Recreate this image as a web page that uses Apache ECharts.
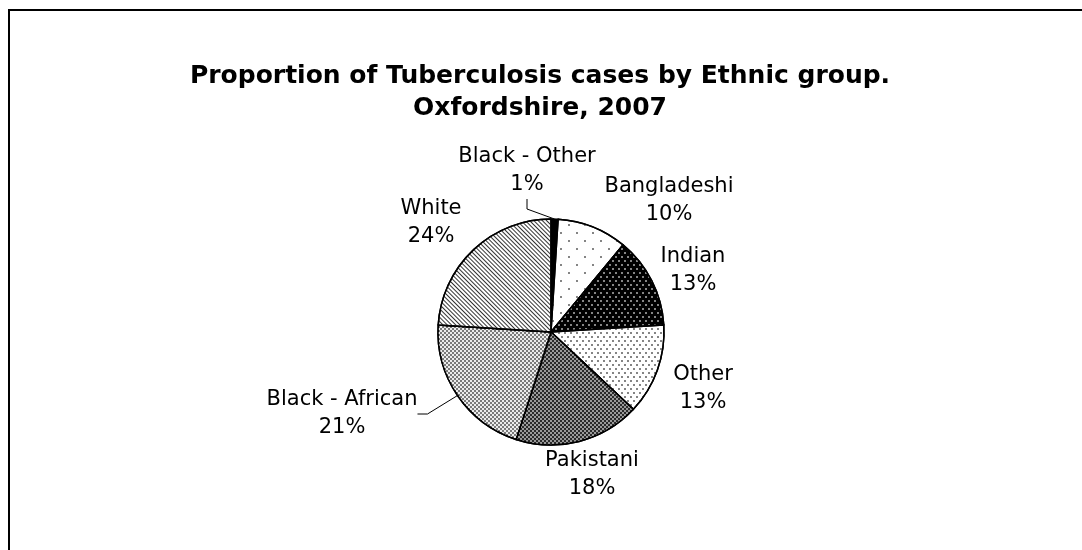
<!DOCTYPE html>
<html>
<head>
<meta charset="utf-8">
<script src="https://cdn.jsdelivr.net/npm/echarts@6/dist/echarts.min.js"></script>
<style>html,body{margin:0;padding:0;background:#fff}#c{width:1082px;height:550px}</style>
</head>
<body>
<div id="c"></div>
<script>
const categories = ['Black - Other', 'Bangladeshi', 'Indian', 'Other', 'Pakistani', 'Black - African', 'White'];
const percents = [1, 10, 13, 13, 18, 21, 24];
const titleLines = ['Proportion of Tuberculosis cases by Ethnic group.', 'Oxfordshire, 2007'];

const labelPos = [[527, 171], [669, 201], [693, 271], [703, 389], [592, 475], [342, 414], [431, 223]];
const showLine = [true, false, false, false, false, true, false];

const styles = [
  { color: '#000' },
  { color: '#fff', decal: { symbol: 'rect', symbolSize: 0.8, color: '#333', dashArrayX: [[2, 14], [0, 8, 2, 6]], dashArrayY: [2, 6] } },
  { color: '#000', decal: { symbol: 'rect', symbolSize: 0.8, color: '#ddd', dashArrayX: [[2, 4], [0, 3, 2, 1]], dashArrayY: [2, 2] } },
  { color: '#fff', decal: { symbol: 'rect', symbolSize: 0.8, color: '#333', dashArrayX: [[2, 4], [0, 3, 2, 1]], dashArrayY: [2, 2] } },
  { color: '#2a2a2a', decal: { symbol: 'rect', symbolSize: 1, color: '#9a9a9a', dashArrayX: [[2, 2], [0, 2, 2, 0]], dashArrayY: [2, 0] } },
  { color: '#7a7a7a', decal: { symbol: 'rect', symbolSize: 1, color: '#ececec', dashArrayX: [[2, 2], [0, 2, 2, 0]], dashArrayY: [2, 0] } },
  { color: '#fff', decal: { symbol: 'rect', symbolSize: 1, color: '#333', dashArrayX: [1, 0], dashArrayY: [1, 2], rotation: Math.PI / 4 } }
];

const data = categories.map((name, i) => ({
  name: name,
  value: percents[i],
  itemStyle: { borderColor: '#000', borderWidth: 1.5, color: styles[i].color, decal: styles[i].decal },
  labelLine: { show: showLine[i] }
}));

const chart = echarts.init(document.getElementById('c'), null, { renderer: 'canvas' });
chart.setOption({
  backgroundColor: '#fff',
  animation: false,
  title: {
    text: titleLines.join('\n'),
    left: 535,
    textAlign: 'center',
    top: 55,
    textStyle: { fontFamily: 'DejaVu Sans', fontWeight: 'bold', fontSize: 25, lineHeight: 32, color: '#000' }
  },
  graphic: [{
    type: 'rect', shape: { x: 9, y: 10, width: 1200, height: 700 },
    style: { fill: 'none', stroke: '#000', lineWidth: 2 }, silent: true
  }],
  series: [{
    type: 'pie',
    center: [551, 332],
    radius: 113,
    startAngle: 90,
    clockwise: true,
    data: data,
    label: {
      show: true,
      position: 'outside',
      formatter: p => p.name + '\n' + p.value + '%',
      fontFamily: 'DejaVu Sans',
      fontSize: 21,
      lineHeight: 28,
      color: '#000',
      align: 'center'
    },
    labelLine: { show: true, length: 10, length2: 10, lineStyle: { color: '#000', width: 1 } },
    labelLayout: function (p) {
      const pos = labelPos[p.dataIndex];
      return { x: pos[0], y: pos[1], align: 'center', verticalAlign: 'middle' };
    },
    emphasis: { disabled: true }
  }]
});
</script>
</body>
</html>
